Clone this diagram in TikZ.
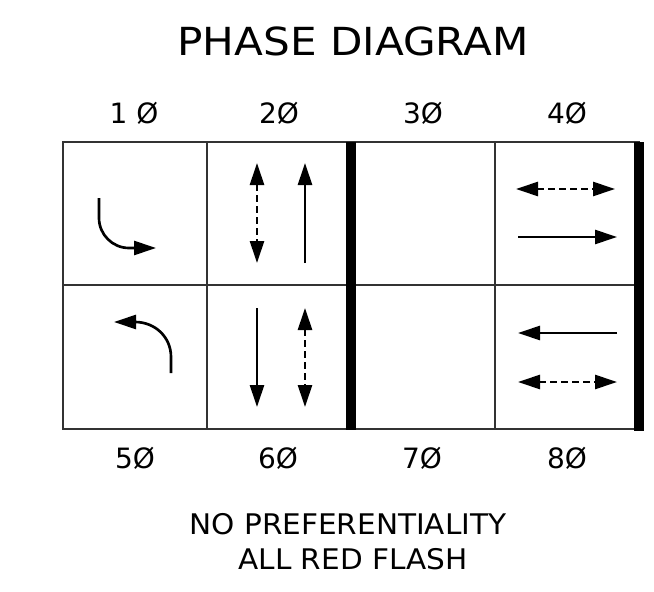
\documentclass[tikz,border=0pt]{standalone}
\usepackage{fontspec}
\setmainfont{DejaVu Sans}
\newfontfamily\titlefont{DejaVu Sans}[FakeStretch=1.09]
\newfontfamily\notefont{DejaVu Sans}[FakeStretch=1.04]
\usetikzlibrary{arrows.meta}
\tikzset{
  grid/.style={draw=black!80, line width=0.9pt},
  bar/.style={fill=black, draw=none},
  tip/.style={},
  arr/.style={line width=2pt, -{Triangle[length=16.5pt,width=10.5pt]}},
  darr/.style={line width=2pt, dash pattern=on 5.2pt off 3pt,
    {Triangle[length=16.5pt,width=10.5pt]}-{Triangle[length=16.5pt,width=10.5pt]}},
  title/.style={font=\titlefont\fontsize{29}{34}\selectfont, anchor=base, inner sep=0pt},
  phase/.style={font=\fontsize{21}{25}\selectfont, anchor=base, inner sep=0pt},
  note/.style={font=\notefont\fontsize{21.3}{25}\selectfont, anchor=base, inner sep=0pt},
}
\begin{document}
\begin{tikzpicture}[x=0.75pt, y=-0.75pt]
\useasboundingbox (0,0) rectangle (654,592);
% grid
\draw[grid] (63,142) rectangle (639,429);
\draw[grid] (63,285) -- (639,285);
\draw[grid] (207,142) -- (207,429);
\draw[grid] (495,142) -- (495,429);
\fill[bar] (346,142) rectangle (356,430);
\fill[bar] (634,142) rectangle (644,431);
% labels
\node[title] (t) at (353,56) {PHASE DIAGRAM};
\node[phase] (p1) at (134,123) {1 Ø};
\node[phase] (p2) at (279,123) {2Ø};
\node[phase] (p3) at (423,123) {3Ø};
\node[phase] (p4) at (567,123) {4Ø};
\node[phase] (p5) at (135,468) {5Ø};
\node[phase] (p6) at (278,468) {6Ø};
\node[phase] (p7) at (422,468) {7Ø};
\node[phase] (p8) at (567,468) {8Ø};
\node[note] (n1) at (348,534) {NO PREFERENTIALITY};
\node[note] (n2) at (353,569) {ALL RED FLASH};
% cell 1: curved right turn
\coordinate (a1s) at (99,198);
\coordinate (a1e) at (156,248);
\draw[arr] (a1s) -- (99,218) .. controls (99,234.5) and (112.5,248) .. (129,248) -- (a1e);
% cell 2
\coordinate (a2a) at (257,163); \coordinate (a2b) at (257,263);
\draw[darr] (a2a) -- (a2b);
\coordinate (a3a) at (305,263); \coordinate (a3b) at (305,163);
\draw[arr] (a3a) -- (a3b);
% cell 5: curved left turn
\coordinate (a5s) at (171,373);
\coordinate (a5e) at (114,322);
\draw[arr] (a5s) -- (171,357) .. controls (171,337) and (155,322) .. (135,322) -- (a5e);
% cell 6
\coordinate (a6a) at (257,308); \coordinate (a6b) at (257,407);
\draw[arr] (a6a) -- (a6b);
\coordinate (a7a) at (305,308); \coordinate (a7b) at (305,407);
\draw[darr] (a7a) -- (a7b);
% cell 4
\coordinate (a8a) at (516,189); \coordinate (a8b) at (615,189);
\draw[darr] (a8a) -- (a8b);
\coordinate (a9a) at (518,237); \coordinate (a9b) at (617,237);
\draw[arr] (a9a) -- (a9b);
% cell 8
\coordinate (a10a) at (617,333); \coordinate (a10b) at (518,333);
\draw[arr] (a10a) -- (a10b);
\coordinate (a11a) at (518,382); \coordinate (a11b) at (617,382);
\draw[darr] (a11a) -- (a11b);
\end{tikzpicture}
\end{document}
